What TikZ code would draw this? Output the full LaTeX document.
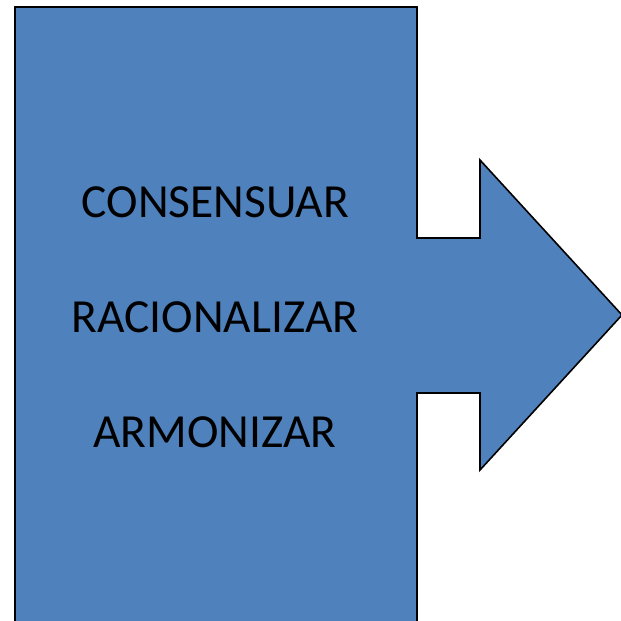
\documentclass[tikz,border=0pt]{standalone}
\usepackage{fontspec}
\setmainfont{Carlito}
\definecolor{shapeblue}{HTML}{4F81BD}
\begin{document}
\begin{tikzpicture}[x=1pt,y=-1pt,
  lbl/.style={anchor=base,inner sep=0pt,font=\fontsize{47.5}{47.5}\selectfont,text=black}]
\useasboundingbox (0,0) rectangle (621,621);
\draw[fill=shapeblue,draw=black,line width=1.6pt]
  (15,7) -- (417,7) -- (417,238) -- (480,238) -- (480,160) -- (622,315)
  -- (480,470) -- (480,393) -- (417,393) -- (417,625) -- (15,625) -- cycle;
\node[lbl] (c1) at (215.5,217) {CONSENSUAR};
\node[lbl] (c2) at (215,332) {RACIONALIZAR};
\node[lbl] (c3) at (215,447) {ARMONIZAR};
\end{tikzpicture}
\end{document}
